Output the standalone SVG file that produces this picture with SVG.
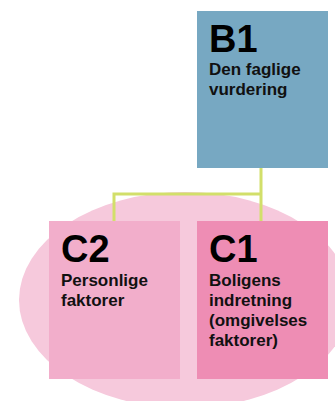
<svg xmlns="http://www.w3.org/2000/svg" width="335" height="401" viewBox="0 0 335 401">
<style>
.big{font-family:"Liberation Sans",Arial,sans-serif;font-weight:bold;font-size:38px;fill:#000}
.lbl{font-family:"Liberation Sans",Arial,sans-serif;font-weight:bold;font-size:17px;fill:#111}
.conn{fill:none;stroke:#D2DF6A;stroke-width:3}
</style>
<rect width="335" height="401" fill="#fff"/>
<ellipse cx="185" cy="300" rx="166" ry="108" fill="#F6C9DC"/>
<g id="connectors">
<path class="conn" d="M261 168 V221 M261 194 H114 V221"/>
</g>
<g id="B1">
<rect x="197" y="11" width="131" height="157" fill="#77A8C2"/>
<text class="big" x="209" y="52">B1</text>
<text class="lbl" x="209" y="75">Den faglige</text>
<text class="lbl" x="209" y="95">vurdering</text>
</g>
<g id="C2">
<rect x="49" y="221" width="131" height="158" fill="#F2AECB"/>
<text class="big" x="61" y="262">C2</text>
<text class="lbl" x="61" y="286">Personlige</text>
<text class="lbl" x="61" y="306">faktorer</text>
</g>
<g id="C1">
<rect x="197" y="221" width="131" height="158" fill="#EE8DB4"/>
<text class="big" x="209" y="262">C1</text>
<text class="lbl" x="209" y="286">Boligens</text>
<text class="lbl" x="209" y="306">indretning</text>
<text class="lbl" x="209" y="326">(omgivelses</text>
<text class="lbl" x="209" y="346">faktorer)</text>
</g>
</svg>
